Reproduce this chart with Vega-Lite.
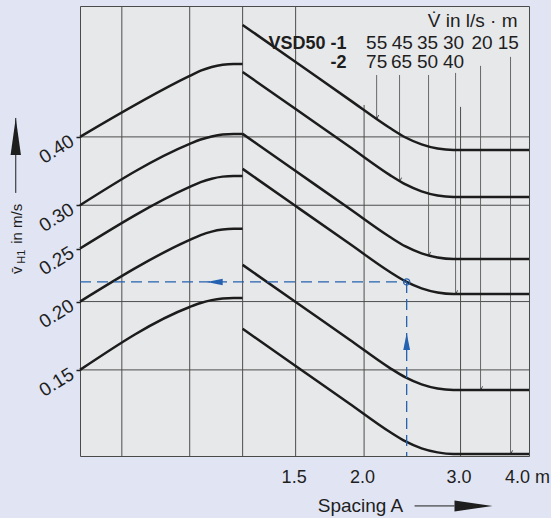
{
  "$schema": "https://vega.github.io/schema/vega-lite/v6.json",
  "width": 449,
  "height": 450,
  "autosize": {"type": "none"},
  "padding": {"left": 80, "top": 6, "right": 22, "bottom": 62},
  "background": "#e1e5f3",
  "config": {
    "font": "Liberation Sans",
    "view": {"fill": "#e7e8ea", "stroke": "#4a4a4a", "strokeWidth": 1}
  },
  "datasets": {
    "grid": [
      {"x": 0.7225, "x2": 0.7225, "y": 0.1044, "y2": 0.694},
      {"x": 0.961, "x2": 0.961, "y": 0.1044, "y2": 0.694},
      {"x": 1.2004, "x2": 1.2004, "y": 0.1044, "y2": 0.694},
      {"x": 1.5, "x2": 1.5, "y": 0.1044, "y2": 0.694},
      {"x": 2.0, "x2": 2.0, "y": 0.1044, "y2": 0.4576},
      {"x": 3.0, "x2": 3.0, "y": 0.1044, "y2": 0.4539},
      {"x": 0.606, "x2": 4.0, "y": 0.15, "y2": 0.15},
      {"x": 0.606, "x2": 4.0, "y": 0.2, "y2": 0.2},
      {"x": 0.606, "x2": 4.0, "y": 0.3, "y2": 0.3},
      {"x": 0.606, "x2": 4.0, "y": 0.4, "y2": 0.4}
    ],
    "vlines": [
      {"x": 2.1083, "x2": 2.1083, "y": 0.519, "y2": 0.4319},
      {"x": 2.3216, "x2": 2.3216, "y": 0.519, "y2": 0.3319},
      {"x": 2.6224, "x2": 2.6224, "y": 0.519, "y2": 0.2428},
      {"x": 2.9378, "x2": 2.9378, "y": 0.5236, "y2": 0.2065},
      {"x": 3.2628, "x2": 3.2628, "y": 0.5394, "y2": 0.1379},
      {"x": 3.7012, "x2": 3.7012, "y": 0.5602, "y2": 0.1053}
    ],
    "vticks": [
      {"x": 2.1083, "y": 0.4319},
      {"x": 2.3216, "y": 0.3319},
      {"x": 2.6224, "y": 0.2428},
      {"x": 2.9378, "y": 0.2065},
      {"x": 3.2628, "y": 0.1379},
      {"x": 3.7012, "y": 0.1053}
    ],
    "curves": [
      {"c": "L1", "x": 0.606, "y": 0.4}, {"c": "L1", "x": 0.961, "y": 0.5171}, {"c": "L1", "x": 1.0064, "y": 0.5286}, {"c": "L1", "x": 1.054, "y": 0.537}, {"c": "L1", "x": 1.1038, "y": 0.5421}, {"c": "L1", "x": 1.1561, "y": 0.5439}, {"c": "L1", "x": 1.2004, "y": 0.5439},
      {"c": "L2", "x": 0.606, "y": 0.3}, {"c": "L2", "x": 0.961, "y": 0.3884}, {"c": "L2", "x": 1.0064, "y": 0.3956}, {"c": "L2", "x": 1.054, "y": 0.4008}, {"c": "L2", "x": 1.1038, "y": 0.4041}, {"c": "L2", "x": 1.1561, "y": 0.4051}, {"c": "L2", "x": 1.2004, "y": 0.4051},
      {"c": "L3", "x": 0.606, "y": 0.25}, {"c": "L3", "x": 0.961, "y": 0.324}, {"c": "L3", "x": 1.0064, "y": 0.3306}, {"c": "L3", "x": 1.054, "y": 0.3355}, {"c": "L3", "x": 1.1038, "y": 0.3384}, {"c": "L3", "x": 1.1561, "y": 0.3394}, {"c": "L3", "x": 1.2004, "y": 0.3394},
      {"c": "L4", "x": 0.606, "y": 0.2}, {"c": "L4", "x": 0.961, "y": 0.2593}, {"c": "L4", "x": 1.0064, "y": 0.2646}, {"c": "L4", "x": 1.054, "y": 0.2685}, {"c": "L4", "x": 1.1038, "y": 0.2708}, {"c": "L4", "x": 1.1561, "y": 0.2716}, {"c": "L4", "x": 1.2004, "y": 0.2716},
      {"c": "L5", "x": 0.606, "y": 0.15}, {"c": "L5", "x": 0.961, "y": 0.1955}, {"c": "L5", "x": 1.0064, "y": 0.1988}, {"c": "L5", "x": 1.054, "y": 0.2012}, {"c": "L5", "x": 1.1038, "y": 0.2026}, {"c": "L5", "x": 1.1561, "y": 0.2031}, {"c": "L5", "x": 1.2004, "y": 0.2031},
      {"c": "R1", "x": 1.2004, "y": 0.6409}, {"c": "R1", "x": 1.5, "y": 0.5482}, {"c": "R1", "x": 1.8822, "y": 0.4675}, {"c": "R1", "x": 2.2264, "y": 0.4156}, {"c": "R1", "x": 2.3809, "y": 0.399}, {"c": "R1", "x": 2.5463, "y": 0.3876}, {"c": "R1", "x": 2.7231, "y": 0.3809}, {"c": "R1", "x": 2.9123, "y": 0.3786}, {"c": "R1", "x": 4.0, "y": 0.3786},
      {"c": "R2", "x": 1.2004, "y": 0.5258}, {"c": "R2", "x": 1.5, "y": 0.4497}, {"c": "R2", "x": 1.8822, "y": 0.3836}, {"c": "R2", "x": 2.2264, "y": 0.3409}, {"c": "R2", "x": 2.3809, "y": 0.3274}, {"c": "R2", "x": 2.5463, "y": 0.318}, {"c": "R2", "x": 2.7231, "y": 0.3125}, {"c": "R2", "x": 2.9123, "y": 0.3106}, {"c": "R2", "x": 4.0, "y": 0.3106},
      {"c": "R3", "x": 1.2004, "y": 0.4051}, {"c": "R3", "x": 1.5, "y": 0.3465}, {"c": "R3", "x": 1.8822, "y": 0.2955}, {"c": "R3", "x": 2.2264, "y": 0.2627}, {"c": "R3", "x": 2.3809, "y": 0.2522}, {"c": "R3", "x": 2.5463, "y": 0.245}, {"c": "R3", "x": 2.7231, "y": 0.2408}, {"c": "R3", "x": 2.9123, "y": 0.2393}, {"c": "R3", "x": 4.0, "y": 0.2393},
      {"c": "R4", "x": 1.2004, "y": 0.3496}, {"c": "R4", "x": 1.5, "y": 0.299}, {"c": "R4", "x": 1.8822, "y": 0.255}, {"c": "R4", "x": 2.2264, "y": 0.2267}, {"c": "R4", "x": 2.3809, "y": 0.2177}, {"c": "R4", "x": 2.5463, "y": 0.2114}, {"c": "R4", "x": 2.7231, "y": 0.2078}, {"c": "R4", "x": 2.9123, "y": 0.2065}, {"c": "R4", "x": 4.0, "y": 0.2065},
      {"c": "R5", "x": 1.2004, "y": 0.2334}, {"c": "R5", "x": 1.5, "y": 0.1996}, {"c": "R5", "x": 1.8822, "y": 0.1703}, {"c": "R5", "x": 2.2264, "y": 0.1513}, {"c": "R5", "x": 2.3809, "y": 0.1453}, {"c": "R5", "x": 2.5463, "y": 0.1411}, {"c": "R5", "x": 2.7231, "y": 0.1387}, {"c": "R5", "x": 2.9123, "y": 0.1379}, {"c": "R5", "x": 4.0, "y": 0.1379},
      {"c": "R6", "x": 1.2004, "y": 0.1783}, {"c": "R6", "x": 1.5, "y": 0.1525}, {"c": "R6", "x": 1.8822, "y": 0.1301}, {"c": "R6", "x": 2.2264, "y": 0.1156}, {"c": "R6", "x": 2.3809, "y": 0.111}, {"c": "R6", "x": 2.5463, "y": 0.1078}, {"c": "R6", "x": 2.7231, "y": 0.106}, {"c": "R6", "x": 2.9123, "y": 0.1053}, {"c": "R6", "x": 4.0, "y": 0.1053}
    ],
    "guide": [
      {"x": 0.606, "x2": 2.392, "y": 0.2172, "y2": 0.2172},
      {"x": 2.392, "x2": 2.392, "y": 0.2172, "y2": 0.1044}
    ],
    "guideLeftHead": [{"x": 1.0674, "y": 0.2172}],
    "guideUpHead": [{"x": 2.392, "y": 0.1691}],
    "guideCircle": [{"x": 2.392, "y": 0.2172}],
    "arrowLines": [
      {"x": 0.4626, "x2": 0.4626, "y": 0.316, "y2": 0.4332},
      {"x": 2.4726, "x2": 2.9246, "y": 0.08461, "y2": 0.08461}
    ],
    "yHead": [{"x": 0.4626, "y": 0.4008}],
    "xHead": [{"x": 3.1679, "y": 0.08461}],
    "yLabels": [
      {"x": 0.5829, "y": 0.15},
      {"x": 0.5829, "y": 0.2},
      {"x": 0.5829, "y": 0.25},
      {"x": 0.5829, "y": 0.3},
      {"x": 0.5829, "y": 0.4}
    ],
    "yTitleMain": [
      {"x": 0.4745, "y": 0.2247, "t": "v̄"},
      {"x": 0.4745, "y": 0.255, "t": "in m/s"}
    ],
    "yTitleSub": [{"x": 0.4806, "y": 0.2345, "t": "H1"}],
    "txtRight": [{"x": 3.811, "y": 0.6355, "t": "V̇ in l/s · m"}],
    "txtBold": [
      {"x": 1.8582, "y": 0.5793, "t": "VSD50 -1"},
      {"x": 1.8582, "y": 0.5348, "t": "-2"}
    ],
    "txtNum": [
      {"x": 2.1083, "y": 0.5793, "t": "55"},
      {"x": 2.3474, "y": 0.5793, "t": "45"},
      {"x": 2.6115, "y": 0.5793, "t": "35"},
      {"x": 2.9123, "y": 0.5793, "t": "30"},
      {"x": 3.2834, "y": 0.5793, "t": "20"},
      {"x": 3.6657, "y": 0.5793, "t": "15"},
      {"x": 2.1083, "y": 0.5348, "t": "75"},
      {"x": 2.3414, "y": 0.5348, "t": "65"},
      {"x": 2.6115, "y": 0.5348, "t": "50"},
      {"x": 2.9123, "y": 0.5348, "t": "40"}
    ]
  },
  "encoding": {
    "x": {"field": "x", "type": "quantitative",
      "scale": {"type": "log", "domain": [0.606, 4.0], "nice": false},
      "axis": {"values": [1.5, 2, 3, 4], "labelExpr": "datum.value == 4 ? '4.0 m' : format(datum.value, '.1f')",
        "ticks": false, "domain": false, "grid": false, "labelFontSize": 18, "labelColor": "#1e1e1e",
        "labelPadding": 12, "labelOffset": -2, "labelFlush": false, "labelOverlap": false, "labelBound": false,
        "title": "Spacing A", "titleFontSize": 19, "titleFontWeight": "normal", "titleColor": "#1e1e1e",
        "titleX": 280, "titleY": 55, "titleBaseline": "alphabetic", "titleAlign": "center"}},
    "y": {"field": "y", "type": "quantitative",
      "scale": {"type": "log", "domain": [0.1044, 0.694], "nice": false},
      "axis": {"values": [0.15, 0.2, 0.25, 0.3, 0.4], "labels": false, "tickSize": 4, "tickColor": "#1e1e1e",
        "tickWidth": 1.5, "domain": false, "grid": false, "title": null}}
  },
  "layer": [
    {
      "data": {"name": "grid"},
      "mark": {"type": "rule", "stroke": "#4d4d4d", "strokeWidth": 1},
      "encoding": {"x2": {"field": "x2"}, "y2": {"field": "y2"}}
    },
    {
      "data": {"name": "vlines"},
      "mark": {"type": "rule", "stroke": "#5a5a5a", "strokeWidth": 0.9},
      "encoding": {"x2": {"field": "x2"}, "y2": {"field": "y2"}}
    },
    {
      "data": {"name": "vticks"},
      "mark": {"type": "point", "shape": "M0.3,-0.3L1,-1.8", "filled": false, "stroke": "#4a4a4a", "strokeWidth": 1, "opacity": 1, "size": 16},
      "encoding": {}
    },
    {
      "data": {"name": "curves"},
      "mark": {"type": "line", "interpolate": "monotone", "stroke": "#1c1c1c", "strokeWidth": 2.5},
      "encoding": {"detail": {"field": "c"}}
    },
    {
      "data": {"name": "guide"},
      "mark": {"type": "rule", "stroke": "#2461b0", "strokeWidth": 1.3, "strokeDash": [11, 6]},
      "encoding": {"x2": {"field": "x2"}, "y2": {"field": "y2"}}
    },
    {
      "data": {"name": "guideLeftHead"},
      "mark": {"type": "point", "shape": "M-1,0L1,-0.4L1,0.4Z", "filled": true, "fill": "#2461b0", "opacity": 1, "size": 256},
      "encoding": {}
    },
    {
      "data": {"name": "guideUpHead"},
      "mark": {"type": "point", "shape": "M0,-1L0.4,1L-0.4,1Z", "filled": true, "fill": "#2461b0", "opacity": 1, "size": 289},
      "encoding": {}
    },
    {
      "data": {"name": "guideCircle"},
      "mark": {"type": "point", "shape": "circle", "filled": false, "stroke": "#2461b0", "strokeWidth": 1.2, "opacity": 1, "size": 40},
      "encoding": {}
    },
    {
      "data": {"name": "arrowLines"},
      "mark": {"type": "rule", "stroke": "#1e1e1e", "strokeWidth": 1},
      "encoding": {"x2": {"field": "x2"}, "y2": {"field": "y2"}}
    },
    {
      "data": {"name": "yHead"},
      "mark": {"type": "point", "shape": "M0,-1L0.28,1L-0.28,1Z", "filled": true, "fill": "#1e1e1e", "opacity": 1, "size": 1369},
      "encoding": {}
    },
    {
      "data": {"name": "xHead"},
      "mark": {"type": "point", "shape": "M1,0L-1,-0.29L-1,0.29Z", "filled": true, "fill": "#1e1e1e", "opacity": 1, "size": 1444},
      "encoding": {}
    },
    {
      "data": {"name": "yLabels"},
      "mark": {"type": "text", "angle": 328, "align": "right", "baseline": "middle", "dy": 3, "fontSize": 19, "color": "#1e1e1e"},
      "encoding": {"text": {"field": "y", "format": ".2f"}}
    },
    {
      "data": {"name": "yTitleMain"},
      "mark": {"type": "text", "angle": 270, "align": "left", "baseline": "alphabetic", "fontSize": 15, "color": "#1e1e1e"},
      "encoding": {"text": {"field": "t"}}
    },
    {
      "data": {"name": "yTitleSub"},
      "mark": {"type": "text", "angle": 270, "align": "left", "baseline": "alphabetic", "fontSize": 11, "color": "#1e1e1e"},
      "encoding": {"text": {"field": "t"}}
    },
    {
      "data": {"name": "txtRight"},
      "mark": {"type": "text", "align": "right", "baseline": "alphabetic", "fontSize": 19, "color": "#1e1e1e"},
      "encoding": {"text": {"field": "t"}}
    },
    {
      "data": {"name": "txtBold"},
      "mark": {"type": "text", "align": "right", "baseline": "alphabetic", "fontSize": 18, "fontWeight": "bold", "color": "#1e1e1e"},
      "encoding": {"text": {"field": "t"}}
    },
    {
      "data": {"name": "txtNum"},
      "mark": {"type": "text", "align": "center", "baseline": "alphabetic", "fontSize": 19, "color": "#1e1e1e"},
      "encoding": {"text": {"field": "t"}}
    }
  ]
}
